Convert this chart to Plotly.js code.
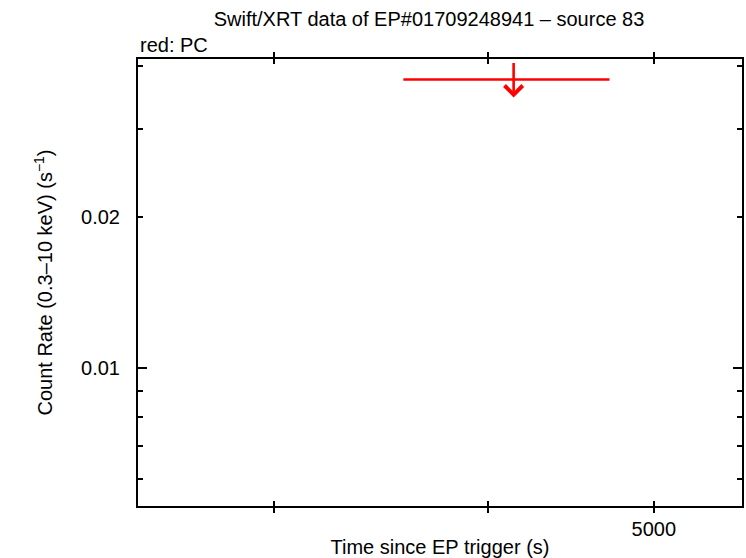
<!DOCTYPE html>
<html>
<head>
<meta charset="utf-8">
<script src="https://cdn.plot.ly/plotly-3.0.1.min.js"></script>
<style>
  html, body { margin: 0; padding: 0; background: #ffffff; }
  #chart { width: 746px; height: 558px; }
</style>
</head>
<body>
<div id="chart"></div>
<script>
// ---- data ----
const pcTime = [4140];          // bin centre, s since EP trigger
const pcTimeErrPlus = [570];    // s
const pcTimeErrMinus = [571];   // s
const pcUpperLimit = [0.0376];  // count rate upper limit, s^-1

const xTickVals = [3000, 4000, 5000];
const xTickText = ['', '', '5000'];
const yTickVals = [0.006, 0.007, 0.008, 0.009, 0.01, 0.02, 0.03, 0.04];
const yTickText = ['', '', '', '', '0.01', '0.02', '', ''];
const yMajorTick = [0.01];

const xRange = [2497, 5630];
const yRange = [0.00531, 0.0413];

const FONT = 'Liberation Sans, Arial, Helvetica, sans-serif';
const FS = 20;

const traces = [
  {
    type: 'scatter',
    mode: 'markers',
    x: pcTime,
    y: pcUpperLimit,
    marker: { color: 'red', size: 2 },
    error_x: {
      type: 'data', symmetric: false,
      array: pcTimeErrPlus, arrayminus: pcTimeErrMinus,
      color: 'red', thickness: 2.6, width: 0
    },
    hoverinfo: 'skip',
    showlegend: false
  },
  {
    type: 'scatter', mode: 'markers', x: [], y: [], yaxis: 'y2',
    showlegend: false, hoverinfo: 'skip'
  }
];

const arrows = pcTime.map((t, i) => ({
  x: Math.log10(t),
  y: Math.log10(pcUpperLimit[i]),
  xref: 'x', yref: 'y',
  text: '',
  showarrow: true,
  ax: 0, ay: -36,
  yshift: -18,
  arrowhead: 4,
  arrowwidth: 2.6,
  arrowsize: 1.35,
  arrowcolor: 'red'
}));

const axisCommon = {
  showline: true, linewidth: 2, linecolor: '#000',
  mirror: 'allticks',
  ticks: 'inside', ticklen: 5, tickwidth: 2, tickcolor: '#000',
  showgrid: false, zeroline: false,
  tickfont: { family: FONT, size: FS, color: '#000' }
};

const layout = {
  width: 746, height: 558,
  margin: { l: 138, r: 4, t: 59, b: 52, pad: 0 },
  paper_bgcolor: '#fff', plot_bgcolor: '#fff',
  font: { family: FONT, size: FS, color: '#000' },
  title: {
    text: 'Swift/XRT data of EP#01709248941 – source 83',
    font: { family: FONT, size: FS, color: '#000' },
    x: (429 - 138) / 604, xref: 'paper', xanchor: 'center',
    y: 1 - 19 / 558, yref: 'container', yanchor: 'middle'
  },
  xaxis: Object.assign({}, axisCommon, {
    type: 'log',
    range: xRange.map(Math.log10),
    tickvals: xTickVals, ticktext: xTickText,
    ticklabelstandoff: 4,
    title: { text: 'Time since EP trigger (s)', font: { family: FONT, size: FS }, standoff: 4 }
  }),
  yaxis: Object.assign({}, axisCommon, {
    type: 'log',
    range: yRange.map(Math.log10),
    tickvals: yTickVals, ticktext: yTickText,
    ticklabelstandoff: 12,
    title: { text: 'Count Rate (0.3–10 keV) (s<sup>−1</sup>)', font: { family: FONT, size: FS }, standoff: 23 }
  }),
  yaxis2: {
    overlaying: 'y', side: 'left', type: 'log',
    range: yRange.map(Math.log10),
    tickvals: yMajorTick, showticklabels: false,
    ticks: 'inside', ticklen: 9, tickwidth: 2, tickcolor: '#000',
    showline: true, linewidth: 2, linecolor: '#000', mirror: 'allticks',
    showgrid: false, zeroline: false
  },
  annotations: [
    {
      text: 'red: PC', xref: 'paper', yref: 'paper',
      x: 0, xanchor: 'left', xshift: 0,
      y: (506 - 45) / 447, yanchor: 'middle',
      showarrow: false,
      font: { family: FONT, size: FS, color: '#000' }
    }
  ].concat(arrows),
  showlegend: false
};

Plotly.newPlot('chart', traces, layout, { staticPlot: true, displayModeBar: false });
</script>
</body>
</html>
